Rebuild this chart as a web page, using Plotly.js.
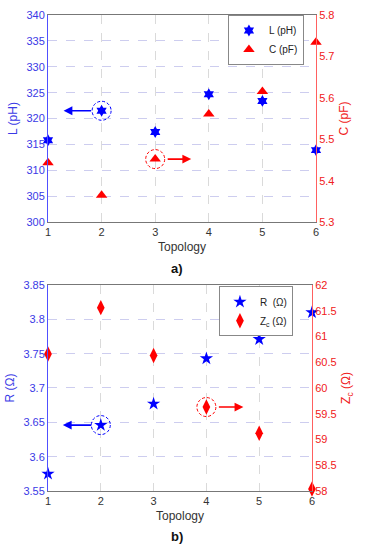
<!DOCTYPE html>
<html><head><meta charset="utf-8">
<script src="https://cdn.plot.ly/plotly-3.0.1.min.js"></script>
<style>html,body{margin:0;padding:0;background:#fff}#chart{width:365px;height:553px}</style>
</head><body><div id="chart"></div>
<script>
const topology = [1, 2, 3, 4, 5, 6];
const L_pH = [315.8, 321.5, 317.4, 324.7, 323.4, 313.9];
const C_pF = [5.443, 5.365, 5.452, 5.561, 5.615, 5.734];
const R_ohm = [3.575, 3.646, 3.677, 3.743, 3.771, 3.810];
const Zc_ohm = [60.66, 61.56, 60.63, 59.63, 59.12, 58.04];
const yTicksL = [300, 305, 310, 315, 320, 325, 330, 335, 340];
const yTicksC = [5.3, 5.4, 5.5, 5.6, 5.7, 5.8];
const yTicksR = [3.55, 3.6, 3.65, 3.7, 3.75, 3.8, 3.85];
const yTicksZ = [58, 58.5, 59, 59.5, 60, 60.5, 61, 61.5, 62];

const BLUE = '#0000ff', RED = '#ff0000';
const BLUE_T = '#3a3ae6', RED_T = '#f02020';
const FONT = 'Liberation Sans, Arial, sans-serif';

const traces = [
  {x: topology, y: L_pH, name: 'L (pH)', type: 'scatter', mode: 'markers', xaxis: 'x', yaxis: 'y', legend: 'legend',
   marker: {symbol: 'hexagram', size: 9, color: BLUE}, cliponaxis: false},
  {x: topology, y: C_pF, name: 'C (pF)', type: 'scatter', mode: 'markers', xaxis: 'x', yaxis: 'y2', legend: 'legend',
   marker: {symbol: 'triangle-up', size: 10, color: RED}, cliponaxis: false},
  {x: topology, y: R_ohm, name: 'R  (Ω)', type: 'scatter', mode: 'markers', xaxis: 'x2', yaxis: 'y3', legend: 'legend2',
   marker: {symbol: 'star', size: 10, color: BLUE}, cliponaxis: false},
  {x: topology, y: Zc_ohm, name: 'Z<sub>c</sub> (Ω)', type: 'scatter', mode: 'markers', xaxis: 'x2', yaxis: 'y4', legend: 'legend2',
   marker: {symbol: 'diamond-tall', size: 11, color: RED}, cliponaxis: false}
];

const gridY = {showgrid: true, gridcolor: '#cdcdef', griddash: 'dash', gridwidth: 1};
const xCommon = {range: [1, 6], tickvals: topology, showgrid: true, gridcolor: '#dadada', griddash: 'dash',
  showline: true, linecolor: '#777', mirror: true, zeroline: false, ticks: '',
  tickfont: {family: FONT, size: 11, color: '#333'},
  title: {text: 'Topology', font: {family: FONT, size: 12, color: '#333'}, standoff: 5}};

const legendCommon = {bgcolor: '#fff', bordercolor: '#888', borderwidth: 1,
  font: {family: FONT, size: 10, color: '#222'}, itemwidth: 30, tracegroupgap: 0, xanchor: 'right', yanchor: 'top'};

const circle = (xr, yr, xv, yv, col) => ({type: 'circle', xref: xr, yref: yr, xsizemode: 'pixel', ysizemode: 'pixel',
  xanchor: xv, yanchor: yv, x0: -9.5, x1: 9.5, y0: -9.5, y1: 9.5, line: {color: col, width: 1, dash: '3px,2px'}});
const arrow = (xr, yr, xv, yv, shift, len, col) => ({xref: xr, yref: yr, x: xv, y: yv, xshift: shift, ax: len, ay: 0, text: '',
  showarrow: true, arrowhead: 2, arrowsize: 1.1, arrowwidth: 1.6, arrowcolor: col});

const layout = {
  width: 365, height: 553,
  margin: {l: 48, r: 49, t: 15, b: 62},
  paper_bgcolor: '#fff', plot_bgcolor: '#fff',
  showlegend: true,
  font: {family: FONT},
  xaxis: Object.assign({}, xCommon, {domain: [0, 1], anchor: 'y'}),
  yaxis: Object.assign({}, gridY, {domain: [0.565, 1], anchor: 'x', range: [300, 340], tickvals: yTicksL,
    showline: true, linecolor: '#5050ff', zeroline: false, ticks: '',
    tickfont: {family: FONT, size: 11, color: BLUE_T},
    title: {text: 'L (pH)', font: {family: FONT, size: 12, color: BLUE_T}, standoff: 6}}),
  yaxis2: {overlaying: 'y', side: 'right', anchor: 'x', range: [5.3, 5.8], tickvals: yTicksC,
    ticktext: yTicksC.map(v => v.toFixed(1)), showgrid: false, showline: true, linecolor: '#ff6060', zeroline: false, ticks: '',
    tickfont: {family: FONT, size: 11, color: RED_T},
    title: {text: 'C (pF)', font: {family: FONT, size: 12, color: RED_T}, standoff: 6}},
  xaxis2: Object.assign({}, xCommon, {domain: [0, 0.985], anchor: 'y3'}),
  yaxis3: Object.assign({}, gridY, {domain: [0, 0.4328], anchor: 'x2', range: [3.55, 3.85], tickvals: yTicksR,
    ticktext: yTicksR.map(v => String(v)),
    showline: true, linecolor: '#5050ff', zeroline: false, ticks: '',
    tickfont: {family: FONT, size: 11, color: BLUE_T},
    title: {text: 'R (Ω)', font: {family: FONT, size: 12, color: BLUE_T}, standoff: 6}}),
  yaxis4: {overlaying: 'y3', side: 'right', anchor: 'x2', range: [58, 62], tickvals: yTicksZ,
    showgrid: false, showline: true, linecolor: '#ff6060', zeroline: false, ticks: '',
    tickfont: {family: FONT, size: 11, color: RED_T},
    title: {text: 'Z<sub>c</sub> (Ω)', font: {family: FONT, size: 12, color: RED_T}, standoff: 6}},
  legend: Object.assign({}, legendCommon, {x: 0.955, y: 1}),
  legend2: Object.assign({}, legendCommon, {x: 0.914, y: 0.43}),
  shapes: [
    circle('x', 'y', topology[1], L_pH[1], BLUE),
    circle('x', 'y2', topology[2], C_pF[2], RED),
    circle('x2', 'y3', topology[1], R_ohm[1], BLUE),
    circle('x2', 'y4', topology[3], Zc_ohm[3], RED)
  ],
  annotations: [
    arrow('x', 'y', topology[1], L_pH[1], -38, 29, BLUE),
    arrow('x', 'y2', topology[2], C_pF[2], 36, -25, RED),
    arrow('x2', 'y3', topology[1], R_ohm[1], -38, 30, BLUE),
    arrow('x2', 'y4', topology[3], Zc_ohm[3], 37, -26, RED),
    {xref: 'paper', yref: 'paper', x: 0.483, y: (553 - 62 - 268) / 476, xanchor: 'center', yanchor: 'middle',
     text: '<b>a)</b>', showarrow: false, font: {family: FONT, size: 13, color: '#111'}},
    {xref: 'paper', yref: 'paper', x: 0.483, y: (553 - 62 - 536) / 476, xanchor: 'center', yanchor: 'middle',
     text: '<b>b)</b>', showarrow: false, font: {family: FONT, size: 13, color: '#111'}}
  ]
};

Plotly.newPlot('chart', traces, layout, {displayModeBar: false, staticPlot: true});
</script>
</body></html>
